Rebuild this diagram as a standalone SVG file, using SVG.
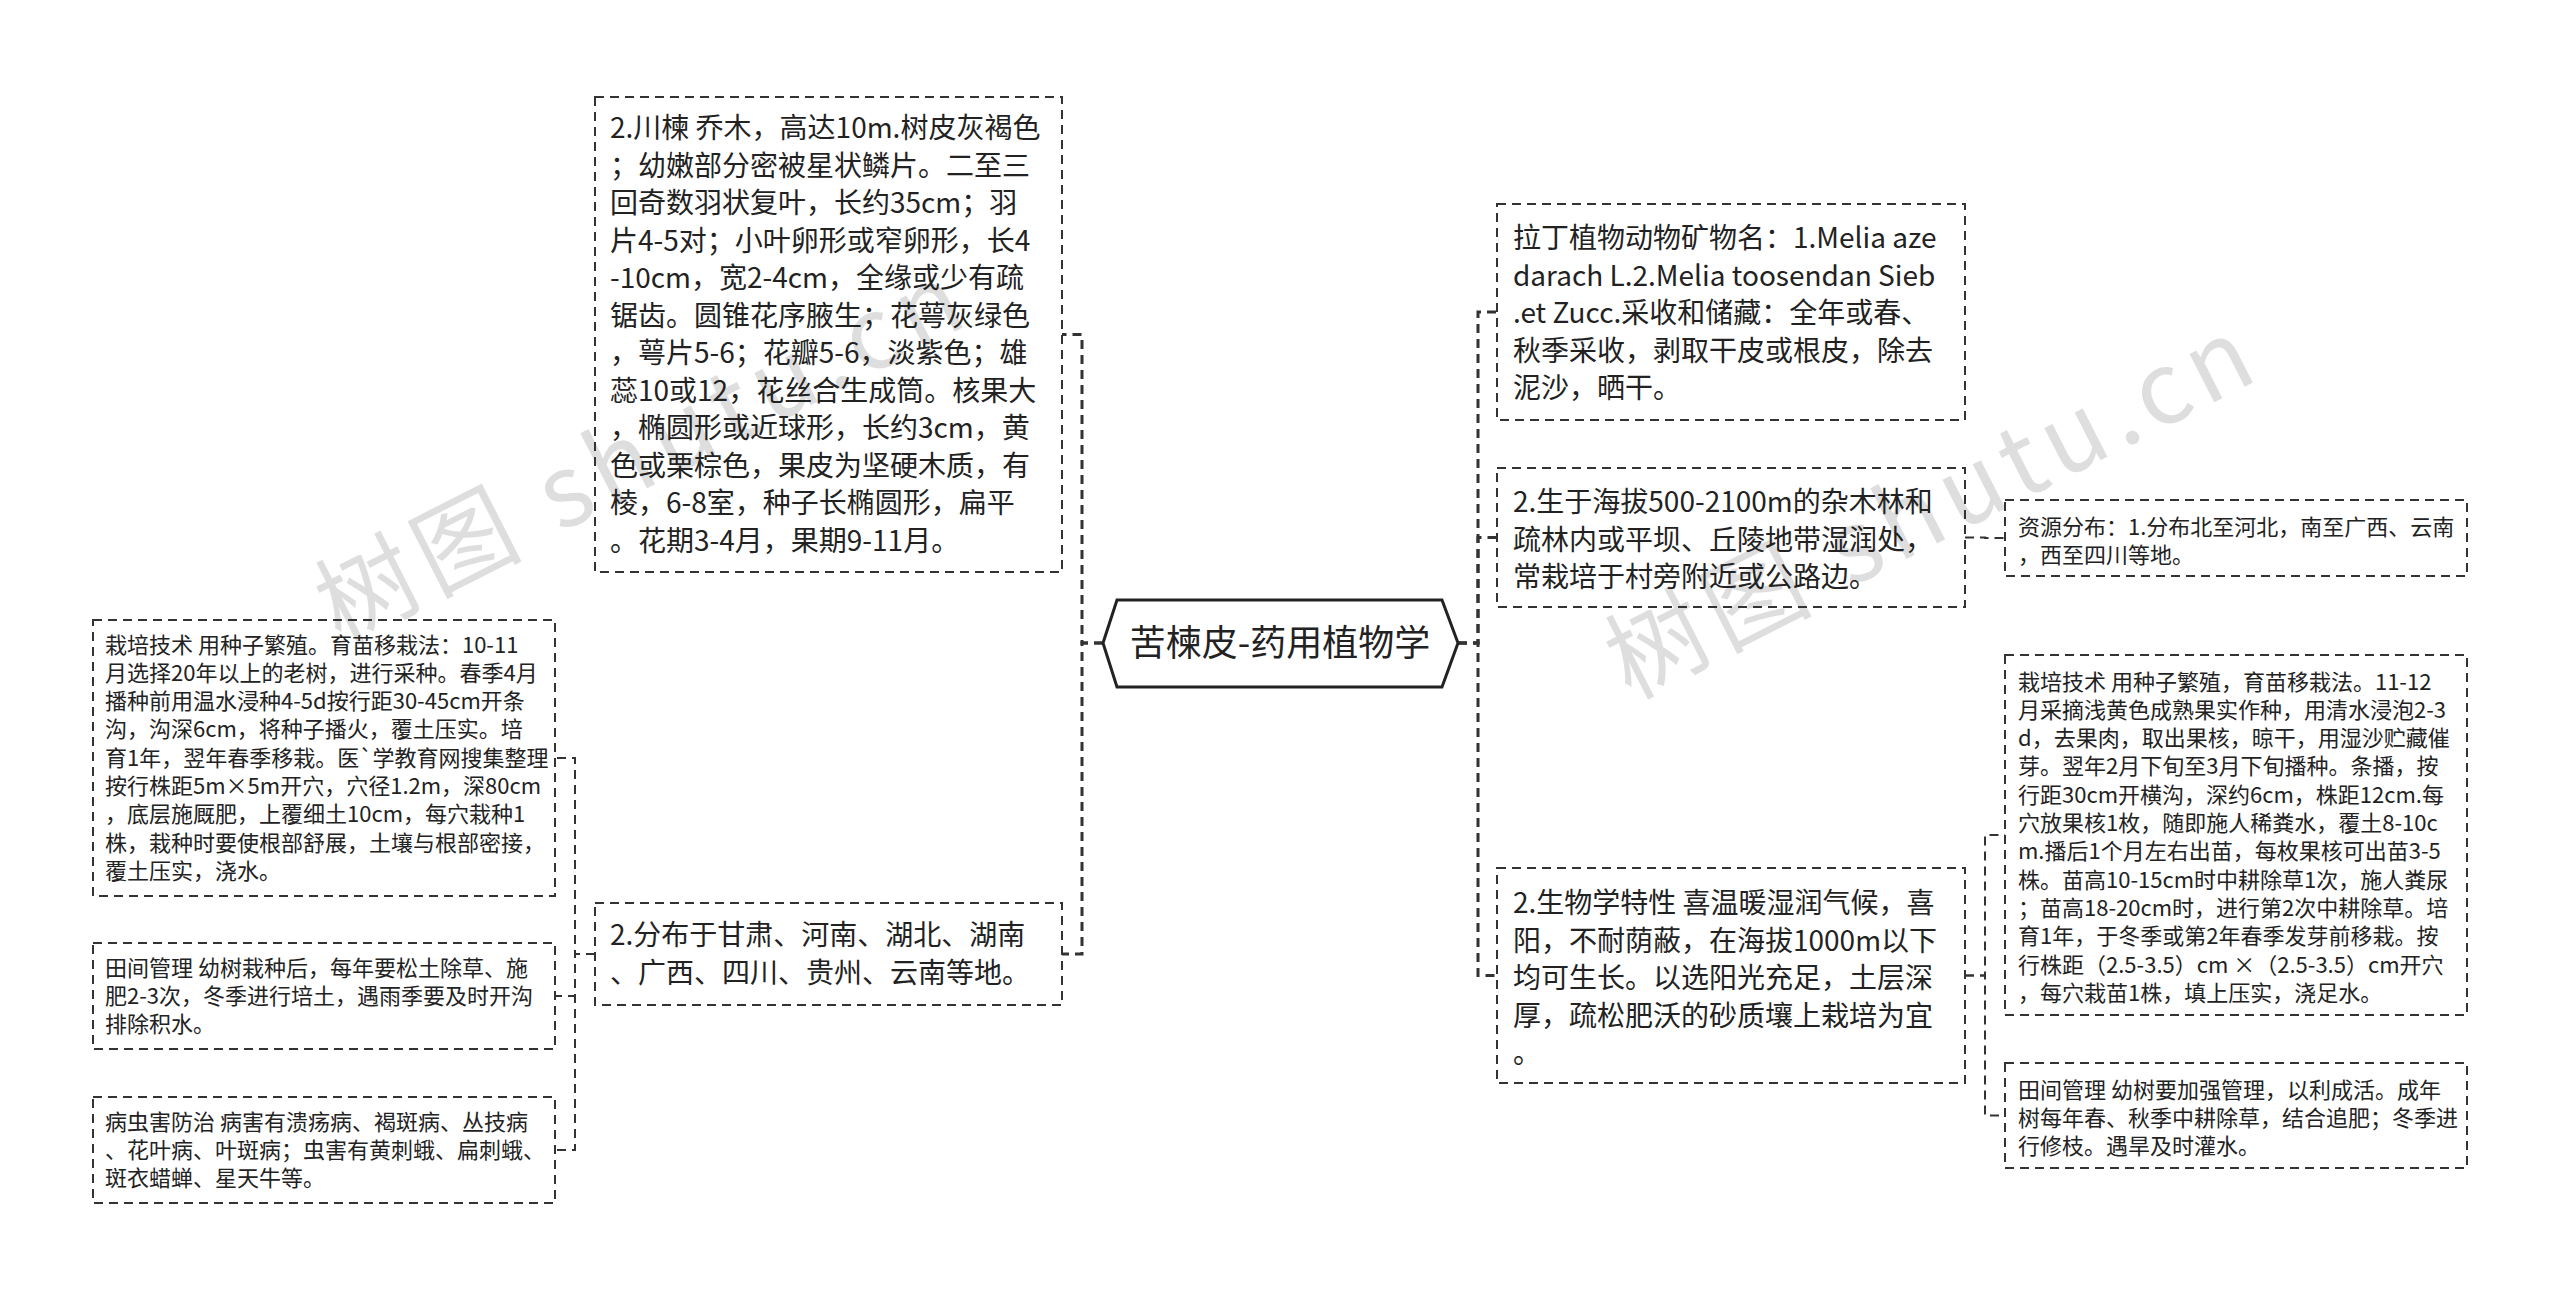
<svg xmlns="http://www.w3.org/2000/svg" width="2560" height="1297" viewBox="0 0 2560 1297">
<style>
.bg{fill:#fff}
.box{fill:none;stroke:#333;stroke-width:2;stroke-dasharray:9 6}
.hex{fill:#fff;stroke:#222;stroke-width:3}
.c1{fill:none;stroke:#333;stroke-width:3;stroke-dasharray:9 6}
.c2{fill:none;stroke:#333;stroke-width:2;stroke-dasharray:9 6}
text{font-family:"Noto Sans CJK SC","Noto Sans",sans-serif;fill:#222}
.t28{font-size:28px}
.t22{font-size:22px}
.t36{font-size:36px}
.wm{font-family:"Noto Sans CJK SC","Liberation Sans",sans-serif;font-size:100px;fill:#000;fill-opacity:0.13;letter-spacing:8px}
</style>
<rect class="bg" x="0" y="0" width="2560" height="1297"/>
<g id="watermarks">
<text class="wm" transform="translate(340 645) rotate(-27)">树图 shutu.cn</text>
<text class="wm" transform="translate(1630 700) rotate(-27)">树图 shutu.cn</text>
</g>
<g id="connectors">
<path class="c1" d="M1103 643 H1082 V334.5 H1062"/>
<path class="c1" d="M1103 643 H1082 V954 H1062"/>
<path class="c2" d="M595 954 H575 V758 H555"/>
<path class="c2" d="M595 954 H575 V996 H555"/>
<path class="c2" d="M595 954 H575 V1150 H555"/>
<path class="c1" d="M1458 643 H1478 V312 H1497"/>
<path class="c1" d="M1458 643 H1478 V537.5 H1497"/>
<path class="c1" d="M1458 643 H1478 V975.5 H1497"/>
<path class="c2" d="M1965 537.5 H1985 V538 H2005"/>
<path class="c2" d="M1965 975.5 H1985 V835 H2005"/>
<path class="c2" d="M1965 975.5 H1985 V1115.5 H2005"/>
</g>
<g id="root">
<polygon class="hex" points="1103,643 1117,600 1442,600 1458,643 1442,687 1117,687"/>
<text class="t36" x="1280" y="656" text-anchor="middle">苦楝皮-药用植物学</text>
</g>
<g id="n_chuanlian">
<rect class="box" x="595" y="97" width="467" height="475"/>
<text class="t28" x="610" y="138">2.川楝 乔木，高达10m.树皮灰褐色</text>
<text class="t28" x="610" y="175.5">；幼嫩部分密被星状鳞片。二至三</text>
<text class="t28" x="610" y="213">回奇数羽状复叶，长约35cm；羽</text>
<text class="t28" x="610" y="250.5">片4-5对；小叶卵形或窄卵形，长4</text>
<text class="t28" x="610" y="288">-10cm，宽2-4cm，全缘或少有疏</text>
<text class="t28" x="610" y="325.5">锯齿。圆锥花序腋生；花萼灰绿色</text>
<text class="t28" x="610" y="363">，萼片5-6；花瓣5-6，淡紫色；雄</text>
<text class="t28" x="610" y="400.5">蕊10或12，花丝合生成筒。核果大</text>
<text class="t28" x="610" y="438">，椭圆形或近球形，长约3cm，黄</text>
<text class="t28" x="610" y="475.5">色或栗棕色，果皮为坚硬木质，有</text>
<text class="t28" x="610" y="513">棱，6-8室，种子长椭圆形，扁平</text>
<text class="t28" x="610" y="550.5">。花期3-4月，果期9-11月。</text>
</g>
<g id="n_fenbu">
<rect class="box" x="595" y="903" width="467" height="102"/>
<text class="t28" x="610" y="945">2.分布于甘肃、河南、湖北、湖南</text>
<text class="t28" x="610" y="982.5">、广西、四川、贵州、云南等地。</text>
</g>
<g id="n_zaipei_l">
<rect class="box" x="93" y="620" width="462" height="276"/>
<text class="t22" x="105" y="652.5">栽培技术 用种子繁殖。育苗移栽法：10-11</text>
<text class="t22" x="105" y="680.8">月选择20年以上的老树，进行采种。春季4月</text>
<text class="t22" x="105" y="709.1">播种前用温水浸种4-5d按行距30-45cm开条</text>
<text class="t22" x="105" y="737.4">沟，沟深6cm，将种子播火，覆土压实。培</text>
<text class="t22" x="105" y="765.7">育1年，翌年春季移栽。医`学教育网搜集整理</text>
<text class="t22" x="105" y="794">按行株距5m×5m开穴，穴径1.2m，深80cm</text>
<text class="t22" x="105" y="822.3">，底层施厩肥，上覆细土10cm，每穴栽种1</text>
<text class="t22" x="105" y="850.6">株，栽种时要使根部舒展，土壤与根部密接，</text>
<text class="t22" x="105" y="878.9">覆土压实，浇水。</text>
</g>
<g id="n_tianjian_l">
<rect class="box" x="93" y="943" width="462" height="106"/>
<text class="t22" x="105" y="975.5">田间管理 幼树栽种后，每年要松土除草、施</text>
<text class="t22" x="105" y="1003.8">肥2-3次，冬季进行培土，遇雨季要及时开沟</text>
<text class="t22" x="105" y="1032.1">排除积水。</text>
</g>
<g id="n_bingchong">
<rect class="box" x="93" y="1097" width="462" height="106"/>
<text class="t22" x="105" y="1129.5">病虫害防治 病害有溃疡病、褐斑病、丛技病</text>
<text class="t22" x="105" y="1157.8">、花叶病、叶斑病；虫害有黄刺蛾、扁刺蛾、</text>
<text class="t22" x="105" y="1186.1">斑衣蜡蝉、星天牛等。</text>
</g>
<g id="n_lading">
<rect class="box" x="1497" y="204" width="468" height="216"/>
<text class="t28" x="1513" y="248">拉丁植物动物矿物名：1.Melia aze</text>
<text class="t28" x="1513" y="285.5">darach L.2.Melia toosendan Sieb</text>
<text class="t28" x="1513" y="323">.et Zucc.采收和储藏：全年或春、</text>
<text class="t28" x="1513" y="360.5">秋季采收，剥取干皮或根皮，除去</text>
<text class="t28" x="1513" y="398">泥沙，晒干。</text>
</g>
<g id="n_shengyu">
<rect class="box" x="1497" y="468" width="468" height="139"/>
<text class="t28" x="1513" y="512">2.生于海拔500-2100m的杂木林和</text>
<text class="t28" x="1513" y="549.5">疏林内或平坝、丘陵地带湿润处，</text>
<text class="t28" x="1513" y="587">常栽培于村旁附近或公路边。</text>
</g>
<g id="n_shengwu">
<rect class="box" x="1497" y="868" width="468" height="215"/>
<text class="t28" x="1513" y="913">2.生物学特性 喜温暖湿润气候，喜</text>
<text class="t28" x="1513" y="950.5">阳，不耐荫蔽，在海拔1000m以下</text>
<text class="t28" x="1513" y="988">均可生长。以选阳光充足，土层深</text>
<text class="t28" x="1513" y="1025.5">厚，疏松肥沃的砂质壤上栽培为宜</text>
<text class="t28" x="1513" y="1063">。</text>
</g>
<g id="n_ziyuan">
<rect class="box" x="2005" y="500" width="462" height="76"/>
<text class="t22" x="2018" y="534.5">资源分布：1.分布北至河北，南至广西、云南</text>
<text class="t22" x="2018" y="562.8">，西至四川等地。</text>
</g>
<g id="n_zaipei_r">
<rect class="box" x="2005" y="655" width="462" height="360"/>
<text class="t22" x="2018" y="689.5">栽培技术 用种子繁殖，育苗移栽法。11-12</text>
<text class="t22" x="2018" y="717.8">月采摘浅黄色成熟果实作种，用清水浸泡2-3</text>
<text class="t22" x="2018" y="746.1">d，去果肉，取出果核，晾干，用湿沙贮藏催</text>
<text class="t22" x="2018" y="774.4">芽。翌年2月下旬至3月下旬播种。条播，按</text>
<text class="t22" x="2018" y="802.7">行距30cm开横沟，深约6cm，株距12cm.每</text>
<text class="t22" x="2018" y="831">穴放果核1枚，随即施人稀粪水，覆土8-10c</text>
<text class="t22" x="2018" y="859.3">m.播后1个月左右出苗，每枚果核可出苗3-5</text>
<text class="t22" x="2018" y="887.6">株。苗高10-15cm时中耕除草1次，施人粪尿</text>
<text class="t22" x="2018" y="915.9">；苗高18-20cm时，进行第2次中耕除草。培</text>
<text class="t22" x="2018" y="944.2">育1年，于冬季或第2年春季发芽前移栽。按</text>
<text class="t22" x="2018" y="972.5">行株距（2.5-3.5）cm ×（2.5-3.5）cm开穴</text>
<text class="t22" x="2018" y="1000.8">，每穴栽苗1株，填上压实，浇足水。</text>
</g>
<g id="n_tianjian_r">
<rect class="box" x="2005" y="1063" width="462" height="105"/>
<text class="t22" x="2018" y="1097.5">田间管理 幼树要加强管理，以利成活。成年</text>
<text class="t22" x="2018" y="1125.8">树每年春、秋季中耕除草，结合追肥；冬季进</text>
<text class="t22" x="2018" y="1154.1">行修枝。遇旱及时灌水。</text>
</g>
</svg>
